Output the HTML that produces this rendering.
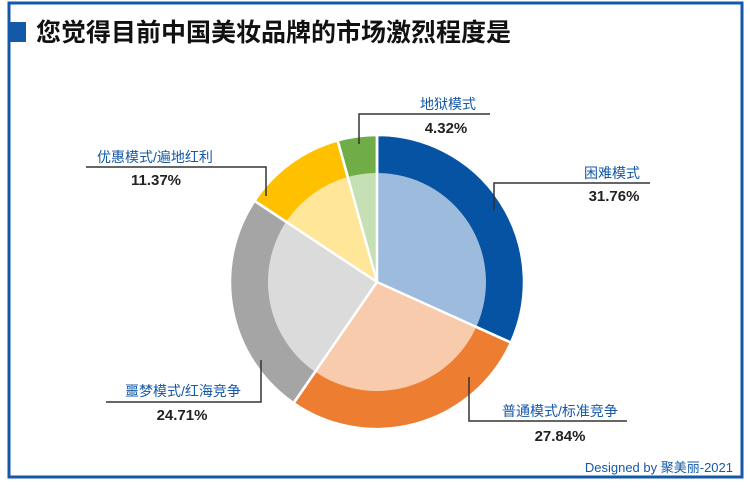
<!DOCTYPE html>
<html><head><meta charset="utf-8"><style>
body{margin:0;background:#fff;width:750px;height:485px;overflow:hidden;font-family:"Liberation Sans","Noto Sans CJK SC",sans-serif}
</style></head><body>
<svg width="750" height="485" xmlns="http://www.w3.org/2000/svg" font-family="Liberation Sans, Noto Sans CJK SC, sans-serif">
<rect x="9" y="3" width="733" height="474" fill="#fff" stroke="#1458a8" stroke-width="3"/>
<rect x="8" y="22" width="18" height="20" fill="#1458a8"/>
<text x="36" y="41" font-size="25" font-weight="bold" fill="#111">您觉得目前中国美妆品牌的市场激烈程度是</text>
<g stroke="#fff" stroke-width="2.5">
<path d="M377 282 L377 135 A147 147 0 0 1 510.9 342.6Z" fill="#0753a3"/>
<path d="M377 282 L510.9 342.6 A147 147 0 0 1 293.6 403.1Z" fill="#ed7d31"/>
<path d="M377 282 L293.6 403.1 A147 147 0 0 1 254.5 200.8Z" fill="#a5a5a5"/>
<path d="M377 282 L254.5 200.8 A147 147 0 0 1 337.6 140.4Z" fill="#ffc000"/>
<path d="M377 282 L337.6 140.4 A147 147 0 0 1 377 135Z" fill="#70ad47"/>
</g>
<g stroke="none">
<path d="M377 282 L377 173 A109 109 0 0 1 476.3 326.9Z" fill="#9dbbdd"/>
<path d="M377 282 L476.3 326.9 A109 109 0 0 1 315.2 371.8Z" fill="#f8cbad"/>
<path d="M377 282 L315.2 371.8 A109 109 0 0 1 286.1 221.8Z" fill="#dbdbdb"/>
<path d="M377 282 L286.1 221.8 A109 109 0 0 1 347.8 177Z" fill="#ffe699"/>
<path d="M377 282 L347.8 177 A109 109 0 0 1 377 173Z" fill="#c5e0b4"/>
</g>
<g stroke="#fff" stroke-width="2.5">
<line x1="377" y1="282" x2="377" y2="134"/>
<line x1="377" y1="282" x2="511.8" y2="343"/>
<line x1="377" y1="282" x2="293" y2="404"/>
<line x1="377" y1="282" x2="253.7" y2="200.3"/>
<line x1="377" y1="282" x2="337.3" y2="139.4"/>
</g>
<g stroke="#333" stroke-width="1.5" fill="none">
<polyline points="86,167 266,167 266,196"/>
<polyline points="490,114 359,114 359,144"/>
<polyline points="650,183 494,183 494,210"/>
<polyline points="106,402 261,402 261,360"/>
<polyline points="627,421 469,421 469,377"/>
</g>
<g font-size="14" fill="#1458a8" text-anchor="middle">
<text x="155" y="162">优惠模式/遍地红利</text>
<text x="448" y="109">地狱模式</text>
<text x="612" y="178">困难模式</text>
<text x="183" y="396">噩梦模式/红海竞争</text>
<text x="560" y="416">普通模式/标准竞争</text>
</g>
<g font-size="15" font-weight="bold" fill="#222" text-anchor="middle">
<text x="156" y="185">11.37%</text>
<text x="446" y="133">4.32%</text>
<text x="614" y="201">31.76%</text>
<text x="182" y="420">24.71%</text>
<text x="560" y="441">27.84%</text>
</g>
<text x="733" y="472" font-size="13" fill="#1458a8" text-anchor="end">Designed by 聚美丽-2021</text>
</svg>
</body></html>
